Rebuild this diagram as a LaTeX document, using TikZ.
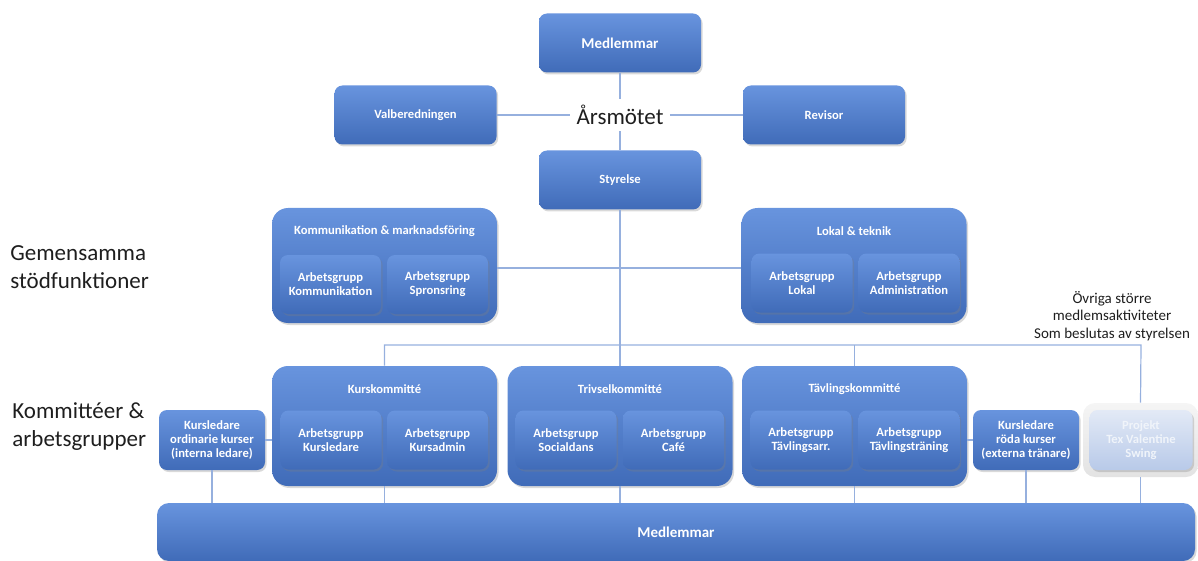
\documentclass[tikz,border=0pt]{standalone}
\usepackage{fontspec}
\setmainfont{Carlito}
\usetikzlibrary{shadows}
\definecolor{boxblue}{RGB}{68,114,196}
\definecolor{boxtop}{RGB}{104,148,222}
\definecolor{linjeblue}{RGB}{150,176,222}
\definecolor{textgray}{RGB}{30,30,30}
\tikzset{
    ruta/.style={rounded corners=4pt, top color=boxtop, middle color=boxblue, bottom color=boxblue!94!black,
        text=white, align=center, inner sep=0pt,
        font=\bfseries\fontsize{6.3}{7}\selectfont,
        drop shadow={opacity=0.3, shadow xshift=0.8pt, shadow yshift=-1pt}},
    huvud/.style={ruta, minimum width=81pt, minimum height=29.5pt},
    grupp/.style={ruta, minimum width=50.5pt, minimum height=29.5pt},
    sido/.style={ruta, minimum width=53pt, minimum height=30pt},
    stor/.style={ruta, rounded corners=8pt, minimum width=112.5pt, minimum height=#1},
    rubrik/.style={text=white, inner sep=0pt, font=\bfseries\fontsize{6.3}{7}\selectfont},
    etikett/.style={text=textgray, align=left, inner sep=0pt, font=\fontsize{11.5}{14}\selectfont},
    linje/.style={draw=linjeblue, line width=0.6pt},
}
\begin{document}
\begin{tikzpicture}[x=0.5pt,y=-0.5pt]
\useasboundingbox (0,0) rectangle (1198,561);
% årsmöte och styrelse
\node[huvud, font=\bfseries\fontsize{7.5}{8}\selectfont] (medlemmar) at (620,43) {Medlemmar};
\node[text=textgray, inner sep=3pt, font=\fontsize{11.5}{14}\selectfont] (arsmotet) at (620,115) {Årsmötet};
\node[huvud] (valb) at (415.5,115) {Valberedningen};
\node[huvud] (revisor) at (824,115) {Revisor};
\node[huvud] (styrelse) at (620,180) {Styrelse};
% stödfunktioner
\node[etikett, anchor=west] (gemensamma) at (10,267) {Gemensamma\\stödfunktioner};
\node[stor=57.5pt] (komm) at (384.5,265.5) {};
\node[rubrik] (kommT) at (384.5,231) {Kommunikation \& marknadsföring};
\node[grupp] (kommA) at (330.5,284.5) {Arbetsgrupp\\Kommunikation};
\node[grupp] (kommB) at (437.5,284.5) {Arbetsgrupp\\Spronsring};
\node[stor=57.5pt] (lokal) at (854,265.5) {};
\node[rubrik] (lokalT) at (854,231) {Lokal \& teknik};
\node[grupp] (lokalA) at (802,283) {Arbetsgrupp\\Lokal};
\node[grupp] (lokalB) at (909,283) {Arbetsgrupp\\Administration};
\node[text=textgray, align=center, inner sep=0pt, font=\fontsize{7.5}{8.8}\selectfont] (ovriga) at (1112,316) {Övriga större\\medlemsaktiviteter\\Som beslutas av styrelsen};
% kommittéer
\node[etikett, anchor=west] (kommitteer) at (12,426.5) {Kommittéer \&\\arbetsgrupper};
\node[stor=60pt] (kurs) at (384.5,426) {};
\node[rubrik] (kursT) at (384.5,389) {Kurskommitté};
\node[grupp] (kursA) at (331,440) {Arbetsgrupp\\Kursledare};
\node[grupp] (kursB) at (437.5,440) {Arbetsgrupp\\Kursadmin};
\node[stor=60pt] (trivsel) at (620,426) {};
\node[rubrik] (trivselT) at (620,389) {Trivselkommitté};
\node[grupp] (trivA) at (566,440) {Arbetsgrupp\\Socialdans};
\node[grupp] (trivB) at (673.5,440) {Arbetsgrupp\\Café};
\node[stor=60pt] (tavling) at (854.5,426) {};
\node[rubrik] (tavlingT) at (854.5,389) {Tävlingskommitté};
\node[grupp] (tavA) at (801,440) {Arbetsgrupp\\Tävlingsarr.};
\node[grupp] (tavB) at (909,440) {Arbetsgrupp\\Tävlingsträning};
\node[sido] (ordinarie) at (212,440) {Kursledare\\ordinarie kurser\\(interna ledare)};
\node[sido] (roda) at (1026,440) {Kursledare\\röda kurser\\(externa tränare)};
\node[rounded corners=6pt, top color=gray!8, bottom color=gray!22, minimum width=57.5pt, minimum height=37pt, inner sep=0pt] (projektRam) at (1140.5,440) {};
\node[ruta, top color=boxblue!15, middle color=boxblue!28, bottom color=boxblue!38, text=white!92!boxblue,
    drop shadow={opacity=0}, minimum width=51.5pt, minimum height=30pt] (projekt) at (1141,440) {Projekt\\Tex Valentine\\Swing};
\node[ruta, rounded corners=6pt, font=\bfseries\fontsize{7.5}{8}\selectfont,
    minimum width=519pt, minimum height=29pt] (bar) at (676,532) {Medlemmar};
% linjer
\draw[linje] (medlemmar) -- (arsmotet);
\draw[linje] (arsmotet) -- (styrelse);
\draw[linje] (valb) -- (arsmotet);
\draw[linje] (arsmotet) -- (revisor);
\draw[linje] (styrelse) -- (trivsel);
\draw[linje] (komm.east |- 0,268) -- (lokal.west |- 0,268);
\coordinate (busL) at (384.5,345);
\coordinate (busR) at (1141,345);
\draw[linje] (kurs.north) -- (busL) -- (busR) -- (projektRam.north);
\draw[linje] (tavling.north) -- (tavling.north |- busL);
\draw[linje] (ordinarie.east) -- (ordinarie.east -| kurs.west);
\draw[linje] (roda.west) -- (roda.west -| tavling.east);
\foreach \n in {ordinarie,kurs,trivsel,tavling,roda,projektRam}{
    \draw[linje] (\n.south) -- (\n.south |- bar.north);
}
\end{tikzpicture}
\end{document}
